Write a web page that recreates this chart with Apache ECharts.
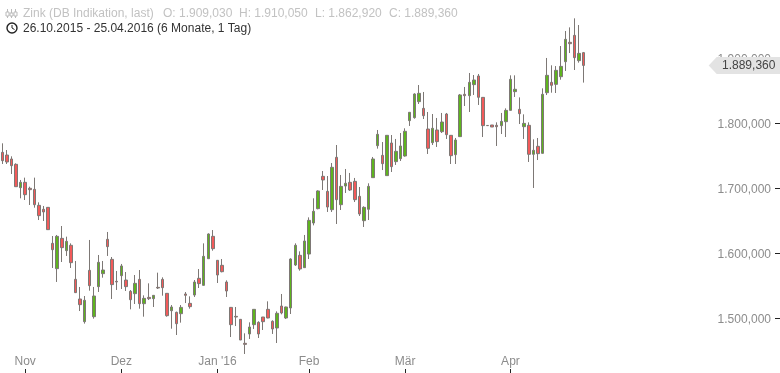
<!DOCTYPE html>
<html>
<head>
<meta charset="utf-8">
<style>
  html, body { margin: 0; padding: 0; background: #fff; }
  #chart { width: 780px; height: 373px; }
</style>
<script src="https://cdn.jsdelivr.net/npm/echarts@6/dist/echarts.min.js"></script>
</head>
<body>
<div id="chart"></div>
<script>
const dates = [
  '26.10','27.10','28.10','29.10','30.10',
  '02.11','03.11','04.11','05.11','06.11','09.11','10.11','11.11','12.11','13.11',
  '16.11','17.11','18.11','19.11','20.11','23.11','24.11','25.11','26.11','27.11','30.11',
  '01.12','02.12','03.12','04.12','07.12','08.12','09.12','10.12','11.12',
  '14.12','15.12','16.12','17.12','18.12','21.12','22.12','23.12','28.12','29.12','30.12','31.12',
  '04.01','05.01','06.01','07.01','08.01','11.01','12.01','13.01','14.01','15.01',
  '18.01','19.01','20.01','21.01','22.01','25.01','26.01','27.01','28.01','29.01',
  '01.02','02.02','03.02','04.02','05.02','08.02','09.02','10.02','11.02','12.02',
  '15.02','16.02','17.02','18.02','19.02','22.02','23.02','24.02','25.02','26.02','29.02',
  '01.03','02.03','03.03','04.03','07.03','08.03','09.03','10.03','11.03',
  '14.03','15.03','16.03','17.03','18.03','21.03','22.03','23.03','24.03','25.03',
  '28.03','29.03','30.03','31.03',
  '01.04','04.04','05.04','06.04','07.04','08.04','11.04','12.04','13.04','14.04','15.04',
  '18.04','19.04','20.04','21.04','22.04','25.04'
]
const monthLabels = { '02.11': 'Nov', '01.12': 'Dez', '04.01': "Jan '16", '01.02': 'Feb', '01.03': 'Mär', '01.04': 'Apr' }
const yTicks = [1500, 1600, 1700, 1800, 1900]

const opens = [
  1755.6,1751.5,1745.4,1737.2,1701.3,1709.5,1700.3,1698.7,1674.1,1668,
  1671,1615.6,1576.7,1623.3,1604.4,1612.6,1560.3,1530,1495.1,1574.1,
  1502.8,1549,1569,1621.8,1591,1557.2,1565.9,1559.2,1541.8,1538.2,
  1560.2,1522.8,1532.5,1530.5,1547.9,1560.2,1538.7,1512,1509.5,1507.4,
  1537.7,1523.3,1536.1,1561.8,1551,1592,1626.4,1589.5,1581.8,1556.1,
  1517.1,1503.3,1498.7,1461.8,1476.2,1490.5,1494.1,1502.3,1514.1,1495.7,
  1485.4,1519.2,1500.8,1516.2,1582.3,1597.2,1578.2,1599.2,1646.9,1669,
  1718.7,1695.6,1667.4,1748,1675.1,1703.8,1709.5,1711,1688,1650.5,
  1668,1716.7,1765.9,1751,1719.8,1770,1741.3,1745.9,1750,1804.4,
  1809,1833.6,1823.3,1791.5,1770.5,1790,1787.4,1814.6,1781.8,1752.1,
  1779.8,1844.9,1842.8,1859.8,1873.1,1840.2,1797,1797.7,1797.2,1796.7,
  1802.8,1820.2,1849,1821.8,1795.1,1797.2,1752.6,1764.9,1754.1,1847.4,
  1863.3,1860.2,1872,1895.1,1924.9,1935.6,1896.7,1909.03
]
const closes = [
  1742.8,1740.8,1735.1,1702.8,1709.5,1690.5,1698.2,1675.1,1658.2,1663.9,
  1636.7,1605.9,1626.4,1609,1618.7,1585.9,1539.8,1521.3,1528,1550.5,
  1534.6,1586.4,1574.6,1610.5,1552.1,1556.2,1580.8,1549,1528.9,1554.1,
  1522.8,1531,1530.5,1535.6,1546.9,1547.4,1504.3,1517.7,1492,1517.1,
  1535.6,1518.2,1556.1,1553.6,1595.6,1630,1607.4,1566.9,1572,1542.3,
  1490.5,1502.3,1466.9,1460.2,1486.9,1514.1,1476.2,1495.1,1500.8,1483.9,
  1508,1508.5,1517.7,1591.5,1612.6,1576.2,1619.2,1651,1664.9,1696.2,
  1713.1,1671.5,1732.6,1682.8,1703.3,1708,1697.7,1682.8,1660.8,1671,
  1703.3,1745.4,1783.3,1738.2,1781.8,1733.6,1757.2,1765.4,1788,1817.2,
  1845.4,1846.4,1812,1761.8,1792.6,1772.1,1802.3,1782.8,1750.5,1774.6,
  1843.9,1842.8,1863.3,1866.9,1840.3,1796.7,1796.7,1794.6,1795.1,1803.3,
  1820.2,1868,1852.6,1815.1,1800.2,1752.6,1758.7,1753.6,1844.9,1874.1,
  1858.7,1881.8,1887.9,1929.5,1922.8,1901.3,1907.9,1889.36
]
const lows = [
  1737.7,1737.7,1722.3,1702.8,1684.9,1682.3,1674.6,1670.5,1651.5,1650,
  1636.2,1577.7,1556.2,1586.9,1596.2,1577.7,1539.2,1511.5,1492.1,1542.8,
  1499.8,1540.8,1562.8,1596.2,1530,1543.9,1545.4,1542.3,1514.1,1522.3,
  1515.1,1502.8,1528.4,1517.7,1545.4,1535.1,1502.8,1484.3,1474.6,1493.6,
  1523.8,1515.1,1533.1,1546.9,1550.5,1591.5,1604.3,1554.6,1571,1533.1,
  1471.5,1488.4,1466.9,1445.4,1468.5,1483.9,1470,1482.3,1500.3,1476.2,
  1462.3,1506.4,1499.2,1506.9,1580.8,1573.6,1577.7,1591.5,1643.3,1668,
  1697.7,1663.9,1663.9,1645.4,1666.9,1693.1,1696.2,1679.2,1657.7,1640.8,
  1651.5,1716.2,1761.3,1728.4,1719.8,1725.4,1736.2,1742.3,1749,1796.2,
  1807.4,1830,1806.9,1753.1,1766.9,1763.9,1785.4,1776.2,1737.7,1737.7,
  1779.2,1826.9,1817.7,1843.9,1828.5,1779.2,1796.2,1794.6,1765.4,1783.8,
  1779.2,1820.2,1840.8,1799.2,1776.2,1740.8,1700.8,1743.8,1753.6,1843.8,
  1847.4,1846.9,1867.4,1880.8,1908.4,1882.3,1893.6,1862.92
]
const highs = [
  1769.5,1759.2,1749.5,1738.7,1713.1,1716.7,1702.8,1716.7,1678.7,1673.1,
  1671,1626.9,1628.5,1642.3,1625.9,1615.6,1588.5,1548.5,1534.6,1620.8,
  1548.5,1597.7,1588.5,1633.1,1594.6,1573.1,1583.9,1571.5,1543.8,1566.9,
  1574.6,1535.6,1554.1,1536.1,1570.5,1563.3,1539.2,1520.7,1510.5,1520.7,
  1540.7,1534.1,1559.2,1576.1,1615.6,1631,1636.1,1589.5,1591.5,1558.7,
  1517.7,1517.7,1499.2,1477.2,1494.1,1514.1,1495.7,1502.3,1526.4,1497.2,
  1511,1537.7,1518.2,1592.6,1615.6,1603.3,1628.5,1655.6,1684.9,1697.2,
  1726.9,1719.2,1739.2,1766.9,1720.8,1730,1723.9,1716.2,1702.3,1672.6,
  1708,1748.5,1790,1771.5,1782.3,1782.3,1776.2,1785.4,1792.6,1817.7,
  1846.4,1859.2,1848.5,1817.7,1814.6,1808.5,1816.2,1816.2,1782.3,1777.7,
  1845.4,1856.2,1877.7,1874.6,1876.2,1840.2,1797.2,1797.7,1801.8,1816.2,
  1823.3,1874.1,1874.1,1840.2,1814.1,1801.8,1775.6,1777.7,1854.1,1900.8,
  1889.5,1888.4,1919.2,1942.3,1947.9,1961.8,1951.5,1910.05
]
const lastClose = closes[closes.length - 1]

// 1.800,000 style
function formatPrice(v) {
  const parts = v.toFixed(3).split('.')
  return parts[0].replace(/\B(?=(\d{3})+$)/g, '.') + ',' + parts[1]
}

const chart = echarts.init(document.getElementById('chart'))
const isMonthStart = (index, value) => monthLabels[value] !== undefined
const wick = '#7d7875'
const headFont = '12px Liberation Sans'
const headGrey = '#c2c2c2'

chart.setOption({
  animation: false,
  backgroundColor: '#fff',
  textStyle: { fontFamily: 'Liberation Sans' },
  grid: { left: 0, top: 0, width: 586, height: 369 },
  xAxis: {
    type: 'category',
    data: dates,
    axisLine: { show: false },
    axisTick: { show: true, interval: isMonthStart, alignWithLabel: true, length: 4, lineStyle: { color: '#222' } },
    axisLabel: {
      inside: true,
      margin: 1,
      interval: isMonthStart,
      color: '#8c8c8c',
      fontSize: 12,
      hideOverlap: false,
      formatter: value => monthLabels[value] || ''
    },
    splitLine: { show: false }
  },
  yAxis: {
    type: 'value',
    position: 'right',
    offset: 189,
    min: 1422.3,
    max: 1990,
    scale: true,
    axisLine: { show: false },
    axisTick: { show: true, length: 5, customValues: yTicks, lineStyle: { color: '#222' } },
    axisLabel: {
      inside: true,
      margin: 4,
      verticalAlign: 'top',
      lineHeight: 2,
      customValues: yTicks,
      color: '#8c8c8c',
      fontSize: 12,
      formatter: value => formatPrice(value)
    },
    splitLine: { show: false }
  },
  series: [
    {
      type: 'candlestick',
      barWidth: 3,
      itemStyle: {
        color: '#5eb41e',
        color0: '#f25a5a',
        borderColor: wick,
        borderColor0: wick,
        borderWidth: 1
      },
      data: opens.map((o, i) => [o, closes[i], lows[i], highs[i]]),
      markPoint: {
        silent: true,
        animation: false,
        data: [
          {
            coord: [dates[dates.length - 1], lastClose],
            symbol: 'path://M0 8.5L8 0H72V17H8Z',
            symbolSize: [72, 17],
            symbolOffset: [161, 0],
            itemStyle: { color: '#e3e3e3', borderWidth: 0 },
            label: {
              show: true,
              position: 'inside',
              offset: [4, 0],
              color: '#444',
              fontSize: 12,
              fontFamily: 'Liberation Sans',
              formatter: () => formatPrice(lastClose)
            }
          }
        ]
      }
    }
  ],
  graphic: [
    { type: 'text', left: 23, top: 8, style: { text: 'Zink (DB Indikation, last)', fill: headGrey, font: headFont } },
    { type: 'text', left: 163, top: 8, style: { text: 'O: 1.909,030', fill: headGrey, font: headFont } },
    { type: 'text', left: 239, top: 8, style: { text: 'H: 1.910,050', fill: headGrey, font: headFont } },
    { type: 'text', left: 315, top: 8, style: { text: 'L: 1.862,920', fill: headGrey, font: headFont } },
    { type: 'text', left: 389, top: 8, style: { text: 'C: 1.889,360', fill: headGrey, font: headFont } },
    { type: 'text', left: 23, top: 23, style: { text: '26.10.2015 - 25.04.2016 (6 Monate, 1 Tag)', fill: '#333', font: headFont } },
    // kerzen icon
    { type: 'line', shape: { x1: 7.5, y1: 9, x2: 7.5, y2: 18 }, style: { stroke: '#bbb', lineWidth: 1 } },
    { type: 'rect', shape: { x: 6, y: 12, width: 3, height: 4 }, style: { fill: '#fff', stroke: '#bbb', lineWidth: 1 } },
    { type: 'line', shape: { x1: 11.5, y1: 9, x2: 11.5, y2: 18 }, style: { stroke: '#bbb', lineWidth: 1 } },
    { type: 'rect', shape: { x: 10, y: 13, width: 3, height: 3 }, style: { fill: '#fff', stroke: '#bbb', lineWidth: 1 } },
    { type: 'line', shape: { x1: 15.5, y1: 9, x2: 15.5, y2: 18 }, style: { stroke: '#bbb', lineWidth: 1 } },
    { type: 'rect', shape: { x: 14, y: 12, width: 3, height: 4 }, style: { fill: '#fff', stroke: '#bbb', lineWidth: 1 } },
    // uhr icon
    { type: 'circle', shape: { cx: 12, cy: 28, r: 5 }, style: { fill: 'none', stroke: '#222', lineWidth: 1.4 } },
    { type: 'polyline', shape: { points: [[12, 25], [12, 28], [14.5, 29.5]] }, style: { fill: 'none', stroke: '#222', lineWidth: 1 } }
  ]
})
</script>
</body>
</html>
